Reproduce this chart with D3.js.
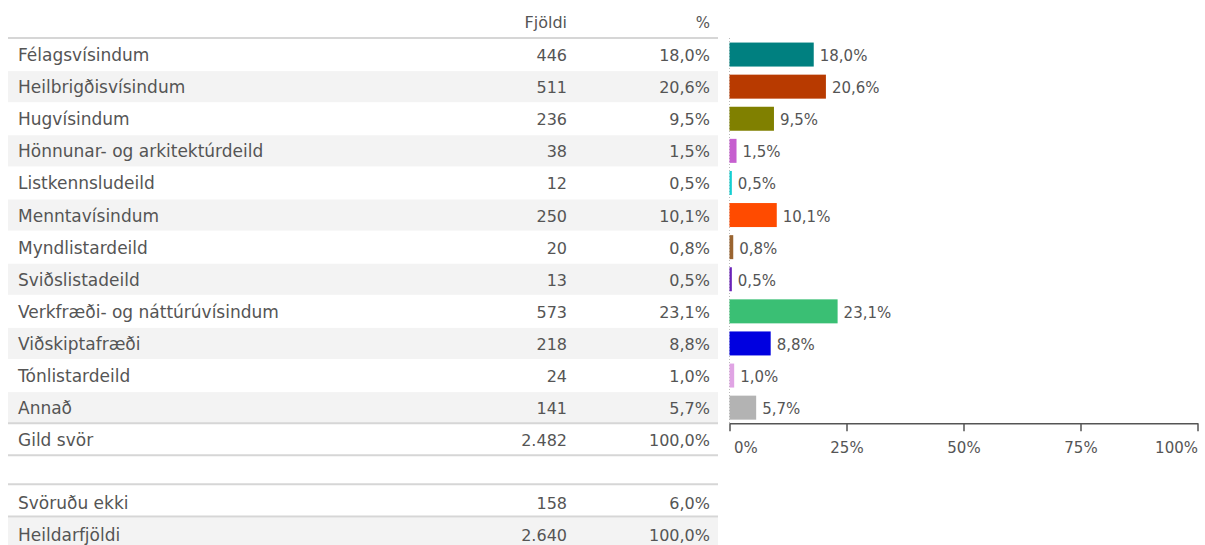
<!DOCTYPE html>
<html>
<head>
<meta charset="utf-8">
<script src="https://cdn.jsdelivr.net/npm/d3@7"></script>
<style>
  body { margin: 0; background: #fff; }
  svg { display: block; font-family: "DejaVu Sans", sans-serif; }
  text { fill: #555; }
</style>
</head>
<body>
<div id="chart"></div>
<script>
// Data
var categories  = [ "Félagsvísindum", "Heilbrigðisvísindum", "Hugvísindum", "Hönnunar- og arkitektúrdeild",
                    "Listkennsludeild", "Menntavísindum", "Myndlistardeild", "Sviðslistadeild",
                    "Verkfræði- og náttúrúvísindum", "Viðskiptafræði", "Tónlistardeild", "Annað" ];
var counts      = [ 446, 511, 236, 38, 12, 250, 20, 13, 573, 218, 24, 141 ];
var percents    = [ 18.0, 20.6, 9.5, 1.5, 0.5, 10.1, 0.8, 0.5, 23.1, 8.8, 1.0, 5.7 ];
var colors      = [ "#008080", "#b83a00", "#808000", "#c65fcf", "#14cfd2", "#ff4b00",
                    "#9a6430", "#6a22b8", "#3abf74", "#0000e0", "#e0a4e4", "#b3b3b3" ];
var summaryLabels   = [ "Gild svör" ];
var summaryCounts   = [ 2482 ];
var summaryPercents = [ 100.0 ];
var footLabels      = [ "Svöruðu ekki", "Heildarfjöldi" ];
var footCounts      = [ 158, 2640 ];
var footPercents    = [ 6.0, 100.0 ];
var axisTicks       = [ 0, 25, 50, 75, 100 ];
var headers         = [ "Fjöldi", "%" ];

var chart_width  = 1205;
var chart_height = 545;

var is = d3.formatLocale({ decimal: ",", thousands: ".", grouping: [3], currency: ["", " kr."] });
var fmtInt = is.format(",d");
var fmtPct = function(v){ return is.format(".1f")(v) + "%"; };

var table_left  = 8;
var table_right = 718;
var col_count   = 567;
var col_pct     = 710;
var row_h       = 32.1;
var top_y       = 38;

// Scales
var allRows = categories.concat(summaryLabels);
var y = d3.scaleBand()
    .domain( allRows )
    .range( [ top_y, top_y + row_h * allRows.length ] )
    .paddingInner( 0 );

var footTop = top_y + row_h * allRows.length + 29;
var yFoot = d3.scaleBand()
    .domain( footLabels )
    .range( [ footTop, footTop + row_h * footLabels.length ] );

var x = d3.scaleLinear()
    .domain( [ 0, 100 ] )
    .range( [ 729.5, 1197.5 ] );

var svg = d3.select("#chart")
    .append("svg")
    .attr("width", chart_width)
    .attr("height", chart_height);

// Header
svg.append("text").attr("x", col_count).attr("y", 28).attr("text-anchor", "end")
    .style("font-size", "16px").text(headers[0]);
svg.append("text").attr("x", col_pct).attr("y", 28).attr("text-anchor", "end")
    .style("font-size", "15px").text(headers[1]);

// Rows
function drawRows(labels, cnts, pcts, scale, shift) {
    var g = svg.append("g");
    var rows = g.selectAll("g.row")
        .data(labels)
        .enter()
        .append("g")
        .attr("class", "row");
    rows.append("rect")
        .attr("x", table_left)
        .attr("y", function(d){ return scale(d) + 1; })
        .attr("width", table_right - table_left)
        .attr("height", scale.bandwidth() - 1)
        .attr("fill", function(d, i){ return i % 2 === 1 ? "#f3f3f3" : "#fff"; });
    rows.append("text")
        .attr("x", 18)
        .attr("y", function(d){ return scale(d) + scale.bandwidth() / 2 + 7 + shift; })
        .style("font-size", "17px")
        .text(function(d){ return d; });
    rows.append("text")
        .attr("x", col_count)
        .attr("y", function(d){ return scale(d) + scale.bandwidth() / 2 + 7 + shift; })
        .attr("text-anchor", "end")
        .style("font-size", "16px")
        .text(function(d, i){ return fmtInt(cnts[i]); });
    rows.append("text")
        .attr("x", col_pct)
        .attr("y", function(d){ return scale(d) + scale.bandwidth() / 2 + 7 + shift; })
        .attr("text-anchor", "end")
        .style("font-size", "16px")
        .text(function(d, i){ return fmtPct(pcts[i]); });
}

drawRows(categories.concat(summaryLabels), counts.concat(summaryCounts), percents.concat(summaryPercents), y, 0);
drawRows(footLabels, footCounts, footPercents, yFoot, 2);

// Separator lines
var lines = [ top_y, y(summaryLabels[0]), y(summaryLabels[0]) + y.bandwidth(), footTop, yFoot(footLabels[1]) ];
svg.selectAll("line.sep")
    .data(lines)
    .enter()
    .append("line")
    .attr("class", "sep")
    .attr("x1", table_left).attr("x2", table_right)
    .attr("y1", function(d){ return d; }).attr("y2", function(d){ return d; })
    .attr("stroke", "#d6d6d6")
    .attr("stroke-width", 2);

// Dotted zero line
svg.append("line")
    .attr("x1", x(0)).attr("x2", x(0))
    .attr("y1", top_y).attr("y2", y(summaryLabels[0]))
    .attr("stroke", "#bbb")
    .attr("stroke-dasharray", "1,2");

// Bars
var bar_h = 24;
var bars = svg.append("g").selectAll("g.bar")
    .data(categories)
    .enter()
    .append("g")
    .attr("class", "bar");

bars.append("rect")
    .attr("x", x(0))
    .attr("y", function(d){ return y(d) + (y.bandwidth() - bar_h) / 2 + 0.5; })
    .attr("width", function(d, i){ return x(percents[i]) - x(0); })
    .attr("height", bar_h)
    .attr("fill", function(d, i){ return colors[i]; });

bars.append("text")
    .attr("x", function(d, i){ return x(percents[i]) + 6; })
    .attr("y", function(d){ return y(d) + y.bandwidth() / 2 + 7; })
    .style("font-size", "15px")
    .text(function(d, i){ return fmtPct(percents[i]); });

// Axis
var axisY = y(summaryLabels[0]);
var xAxis = d3.axisBottom(x)
    .tickValues(axisTicks)
    .tickSize(8)
    .tickSizeOuter(0)
    .tickFormat(function(d){ return d + "%"; });

var ax = svg.append("g")
    .attr("transform", "translate(0," + axisY + ")")
    .call(xAxis);
ax.select(".domain").attr("stroke", "#555").attr("stroke-width", 1.5);
ax.selectAll(".tick line").attr("stroke", "#555").attr("stroke-width", 1.5);
ax.selectAll(".tick text")
    .attr("fill", "#555")
    .attr("y", 19)
    .style("font-size", "15px")
    .style("font-family", "DejaVu Sans, sans-serif")
    .attr("text-anchor", function(d, i){ return i === 0 ? "start" : (i === axisTicks.length - 1 ? "end" : "middle"); })
    .attr("dx", function(d, i){ return i === 0 ? 4 : 0; });
</script>
</body>
</html>
